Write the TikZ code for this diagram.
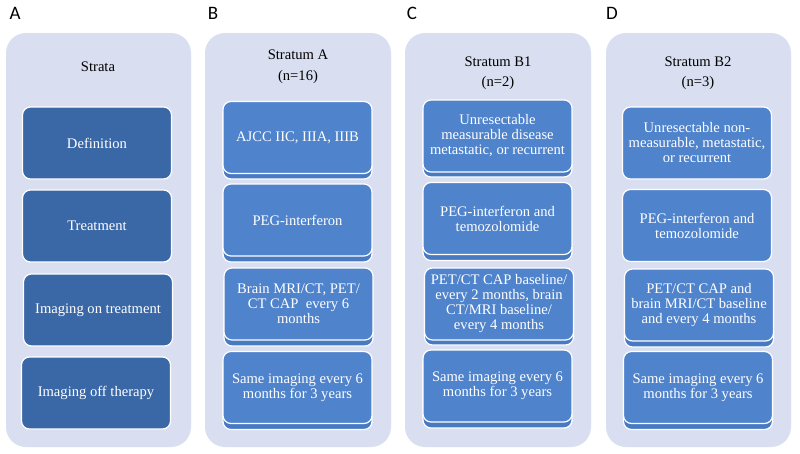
\documentclass[tikz,border=0pt]{standalone}
\usepackage{fontspec}
\setmainfont{Liberation Serif}
\newfontfamily\labelfont{Carlito}
\definecolor{panelbg}{RGB}{217,223,240}
\definecolor{boxlight}{RGB}{79,131,204}
\definecolor{boxdark}{RGB}{58,103,166}
\definecolor{boxshade}{RGB}{72,122,194}
\begin{document}
\begin{tikzpicture}[x=1pt,y=-1pt,
  panel/.style={fill=panelbg, rounded corners=20pt, minimum width=185pt, minimum height=414pt, inner sep=0pt, draw=none},
  card/.style={rounded corners=8pt, draw=white, line width=1.2pt, fill=boxlight, text=white,
    minimum width=149pt, minimum height=72pt, align=center, inner sep=1pt,
    font=\fontsize{14.6}{15}\selectfont},
  darkcard/.style={card, fill=boxdark},
  shadecard/.style={card, fill=boxshade},
  title/.style={font=\fontsize{14.6}{15}\selectfont, text=black, inner sep=0pt},
  letter/.style={font=\labelfont\fontsize{19}{19}\selectfont, text=black, inner sep=0pt}
]
\useasboundingbox (0,0) rectangle (800,453);
\fill[white] (0,0) rectangle (800,453);

% panel letters
\node[letter] (la) at (15,13) {A};
\node[letter] (lb) at (213,13) {B};
\node[letter] (lc) at (412,13) {C};
\node[letter] (ld) at (612,13) {D};

% panels
\node[panel] (pa) at (98.5,240) {};
\node[panel, minimum width=186pt] (pb) at (298,240) {};
\node[panel, minimum width=186pt] (pc) at (498,240) {};
\node[panel] (pd) at (698.5,240) {};

% titles
\node[title] (ta) at (98,67) {Strata};
\node[title] (tb1) at (298,55) {Stratum A};
\node[title] (tb2) at (298,77) {(n=16)};
\node[title] (tc1) at (498,62) {Stratum B1};
\node[title] (tc2) at (498,83) {(n=2)};
\node[title] (td1) at (698,62) {Stratum B2};
\node[title] (td2) at (698,83) {(n=3)};

% column A
\node[darkcard] (a1) at (97,143) {Definition};
\node[darkcard] (a2) at (97,226) {Treatment};
\node[darkcard] (a3) at (98,310) {Imaging on treatment};
\node[darkcard] (a4) at (96,393) {Imaging off therapy};

% column B
\node[shadecard] (b1s) at (297.5,143) {};
\node[card] (b1) at (297.5,137.5) {AJCC IIC, IIIA, IIIB};
\node[shadecard] (b2s) at (297.5,226) {};
\node[card] (b2) at (297.5,220) {PEG-interferon};
\node[shadecard] (b3s) at (298.5,310) {};
\node[card] (b3) at (298.5,304) {Brain MRI/CT, PET/\\CT CAP\ \ every 6\\months};
\node[shadecard] (b4s) at (297.5,393.5) {};
\node[card] (b4) at (297.5,387.5) {Same imaging every 6\\months for 3 years};

% column C
\node[shadecard] (c1s) at (497.5,141) {};
\node[card] (c1) at (497.5,136) {Unresectable\\measurable disease\\metastatic, or recurrent};
\node[shadecard] (c2s) at (497.5,224.5) {};
\node[card] (c2) at (497.5,218.5) {PEG-interferon and\\temozolomide};
\node[shadecard] (c3s) at (499,309) {};
\node[card] (c3) at (499,304) {PET/CT CAP baseline/\\every 2 months, brain\\CT/MRI baseline/\\every 4 months};
\node[shadecard] (c4s) at (497.5,392) {};
\node[card] (c4) at (497.5,386) {Same imaging every 6\\months for 3 years};

% column D
\node[card] (d1) at (697,143) {Unresectable non-\\measurable, metastatic,\\or recurrent};
\node[card] (d2) at (697,225.5) {PEG-interferon and\\temozolomide};
\node[shadecard] (d3s) at (699,311) {};
\node[card] (d3) at (699,305) {PET/CT CAP and\\brain MRI/CT baseline\\and every 4 months};
\node[shadecard] (d4s) at (698,393.5) {};
\node[card] (d4) at (698,387.5) {Same imaging every 6\\months for 3 years};
\end{tikzpicture}
\end{document}
